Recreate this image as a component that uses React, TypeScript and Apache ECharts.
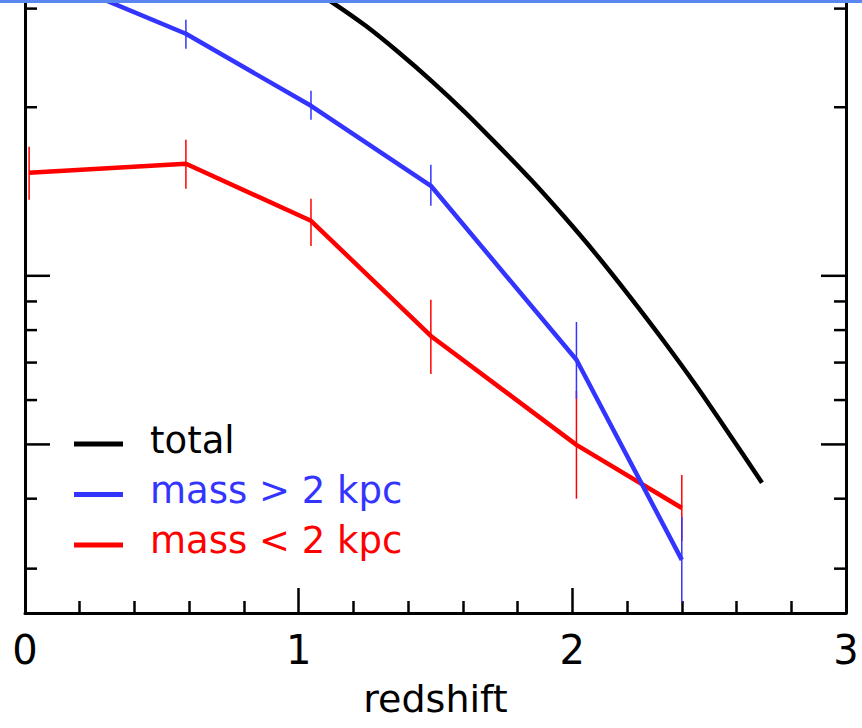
import React, { useEffect, useRef } from "react";
import * as echarts from "echarts";

// ---- data ----
const totalZ = [1.0, 1.125, 1.245, 1.365, 1.487, 1.608, 1.728, 1.849, 1.969, 2.09, 2.21, 2.331, 2.452, 2.572, 2.693];
const totalV = [33.6, 30.72, 27.95, 25.07, 22.25, 19.59, 17.1, 14.84, 12.77, 10.88, 9.18, 7.68, 6.37, 5.23, 4.27];

const blueZ = [0.015, 0.588, 1.045, 1.483, 2.015, 2.4];
const blueV = [35.4, 27.05, 20.12, 14.48, 7.08, 3.11];
const blueLo = [null, 25.43, 18.99, 13.34, 6.03, 2.61];
const blueHi = [null, 28.65, 21.4, 15.79, 8.27, 3.71];

const redZ = [0.015, 0.588, 1.045, 1.483, 2.015, 2.4];
const redV = [15.27, 15.85, 12.54, 7.81, 4.99, 3.85];
const redLo = [13.67, 14.3, 11.31, 6.68, 4.0, 3.36];
const redHi = [17.0, 17.49, 13.73, 9.06, 6.23, 4.41];

const yMajorTicks = [5, 10];
const yMinorTicks = [3, 4, 6, 7, 8, 9, 20, 30];
const xTickLabels = ["0", "1", "2", "3"];

const legendLabels = ["total", "mass > 2 kpc", "mass < 2 kpc"];
const legendColors = ["#000000", "#3434ff", "#ff0000"];

const FONT = '"DejaVu Sans", sans-serif';

function errSeries(z: number[], lo: (number | null)[], hi: (number | null)[], color: string) {
  const data: number[][] = [];
  z.forEach((x, i) => {
    if (lo[i] != null && hi[i] != null) data.push([x, lo[i] as number, hi[i] as number]);
  });
  return {
    type: "custom",
    data,
    encode: { x: 0, y: [1, 2] },
    clip: false,
    renderItem: (params: any, api: any) => {
      const a = api.coord([api.value(0), api.value(1)]);
      const b = api.coord([api.value(0), api.value(2)]);
      return {
        type: "line",
        shape: { x1: a[0], y1: a[1], x2: b[0], y2: b[1] },
        style: { stroke: color, lineWidth: 1.5 },
      };
    },
  };
}

export default function App() {
  const ref = useRef<HTMLDivElement>(null);
  useEffect(() => {
    if (!ref.current) return;
    const chart = echarts.init(ref.current, null, { renderer: "svg" });
    const tickData = [
      ...yMajorTicks.map((v) => [0, v, 1]),
      ...yMinorTicks.map((v) => [0, v, 0]),
    ];
    const yAxisBase = {
      type: "log",
      min: 2.5,
      max: 30.7,
      axisLine: { show: true, lineStyle: { color: "#000", width: 3 } },
      axisTick: { show: false },
      axisLabel: { show: false },
      splitLine: { show: false },
      minorTick: { show: false },
      minorSplitLine: { show: false },
    };
    chart.setOption({
      animation: false,
      backgroundColor: "#ffffff",
      grid: { left: 25, right: 16, top: 3, bottom: 115 },
      xAxis: {
        type: "value",
        min: 0,
        max: 3,
        interval: 1,
        name: "redshift",
        nameLocation: "middle",
        nameGap: 67,
        nameTextStyle: { fontSize: 38, lineHeight: 38, fontFamily: FONT, color: "#000" },
        axisLine: { show: true, onZero: false, lineStyle: { color: "#000", width: 3 } },
        axisTick: { show: true, inside: true, length: 25, lineStyle: { color: "#000", width: 2.5 } },
        minorTick: { show: true, splitNumber: 5, length: 12, lineStyle: { color: "#000", width: 2.5 } },
        axisLabel: {
          fontSize: 40,
          lineHeight: 40,
          margin: 17,
          color: "#000",
          fontFamily: FONT,
          formatter: (v: number) => xTickLabels[Math.round(v)] ?? "",
        },
        splitLine: { show: false },
      },
      yAxis: [
        { ...yAxisBase, position: "left" },
        { ...yAxisBase, position: "right" },
      ],
      series: [
        {
          type: "line",
          data: totalZ.map((z, i) => [z, totalV[i]]),
          showSymbol: false,
          smooth: 0.3,
          lineStyle: { color: legendColors[0], width: 4.5 },
          clip: true,
        },
        {
          type: "line",
          data: redZ.map((z, i) => [z, redV[i]]),
          showSymbol: false,
          lineStyle: { color: legendColors[2], width: 4.5 },
          clip: true,
        },
        errSeries(redZ, redLo, redHi, legendColors[2]),
        {
          type: "line",
          data: blueZ.map((z, i) => [z, blueV[i]]),
          showSymbol: false,
          lineStyle: { color: legendColors[1], width: 4.5 },
          clip: true,
        },
        errSeries(blueZ, blueLo, blueHi, legendColors[1]),
        {
          type: "custom",
          data: tickData,
          encode: { x: 0, y: 1 },
          clip: false,
          silent: true,
          renderItem: (params: any, api: any) => {
            const v = api.value(1);
            const major = api.value(2) === 1;
            const L = api.coord([0, v]);
            const R = api.coord([3, v]);
            const len = major ? 25 : 12;
            return {
              type: "group",
              children: [
                { type: "line", shape: { x1: L[0], y1: L[1], x2: L[0] + len, y2: L[1] }, style: { stroke: "#000", lineWidth: 2.5 } },
                { type: "line", shape: { x1: R[0], y1: R[1], x2: R[0] - len, y2: R[1] }, style: { stroke: "#000", lineWidth: 2.5 } },
              ],
            };
          },
        },
      ],
      graphic: [
        { type: "rect", left: 0, top: 0, shape: { x: 0, y: 0, width: 862, height: 3 }, style: { fill: "#5a86ef" }, z: 100 },
        ...legendLabels.flatMap((label, i) => [
          {
            type: "line",
            shape: { x1: 74, y1: 444 + i * 50.5, x2: 123, y2: 444 + i * 50.5 },
            style: { stroke: legendColors[i], lineWidth: 5 },
          },
          {
            type: "text",
            x: 150,
            y: 440 + i * 50,
            style: {
              text: label,
              fill: legendColors[i],
              fontSize: 37,
              fontFamily: FONT,
              verticalAlign: "middle",
              align: "left",
            },
          },
        ]),
      ],
    });
    return () => chart.dispose();
  }, []);
  return <div ref={ref} style={{ position: "fixed", left: 0, top: 0, width: 862, height: 728 }} />;
}
